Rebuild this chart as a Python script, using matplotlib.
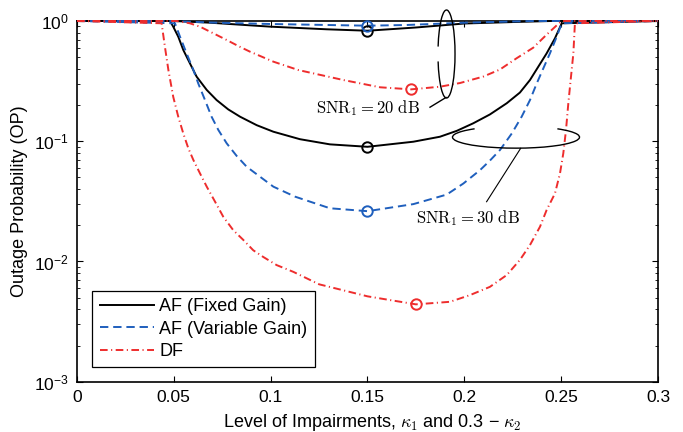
import matplotlib
matplotlib.use("Agg")
import matplotlib.pyplot as plt
from matplotlib.patches import Arc

plt.rcParams['font.family'] = ['Liberation Sans', 'DejaVu Sans']
plt.rcParams['mathtext.fontset'] = 'custom'
plt.rcParams['mathtext.rm'] = 'Liberation Sans'
plt.rcParams['mathtext.it'] = 'Liberation Sans:italic'
plt.rcParams['lines.scale_dashes'] = False

# values (x = level of impairments, y = outage probability)
x_af_fixed_20 = [0, 0.05, 0.0687, 0.085, 0.1, 0.129, 0.15, 0.175, 0.2, 0.225, 0.245, 0.3]
op_af_fixed_20 = [1, 1, 0.968, 0.93, 0.897, 0.853, 0.83, 0.883, 0.953, 0.98, 1, 1]

x_af_var_20 = [0, 0.048, 0.072, 0.1, 0.15, 0.17, 0.2, 0.235, 0.3]
op_af_var_20 = [1, 1, 0.968, 0.944, 0.914, 0.926, 0.968, 1, 1]

x_df_20 = [0, 0.0515, 0.0583, 0.0635, 0.0704, 0.0773, 0.0833, 0.0893, 0.0954, 0.1014,
           0.1143, 0.1375, 0.1565, 0.1725, 0.1874, 0.1978, 0.2098, 0.2184, 0.227, 0.2356,
           0.2425, 0.2477, 0.2503, 0.3]
op_df_20 = [1, 1, 0.957, 0.897, 0.790, 0.695, 0.619, 0.556, 0.505, 0.459,
            0.391, 0.323, 0.281, 0.27, 0.284, 0.305, 0.345, 0.395, 0.49, 0.60,
            0.77, 0.92, 1, 1]

x_af_fixed_30 = [0, 0.048, 0.0497, 0.0523, 0.0549, 0.0583, 0.0618, 0.0670, 0.0721, 0.0781,
                 0.0842, 0.0928, 0.1014, 0.1151, 0.1306, 0.15, 0.1737, 0.1874, 0.1961, 0.2046,
                 0.2132, 0.2219, 0.2287, 0.2339, 0.2382, 0.2425, 0.2468, 0.2503, 0.3]
op_af_fixed_30 = [1, 1, 0.897, 0.740, 0.574, 0.445, 0.344, 0.267, 0.220, 0.184,
                  0.160, 0.136, 0.120, 0.104, 0.0942, 0.0899, 0.0991, 0.109, 0.122, 0.141,
                  0.167, 0.207, 0.254, 0.323, 0.417, 0.538, 0.718, 0.957, 1]

x_af_var_30 = [0, 0.0506, 0.0532, 0.0566, 0.0601, 0.0626, 0.0661, 0.0695, 0.0730, 0.0773,
               0.0825, 0.0876, 0.0945, 0.1014, 0.1126, 0.1306, 0.15, 0.1737, 0.1909, 0.1995,
               0.2081, 0.2132, 0.2184, 0.2245, 0.2296, 0.2339, 0.2374, 0.2408, 0.2442, 0.2477,
               0.2503, 0.3]
op_af_var_30 = [1, 0.957, 0.740, 0.538, 0.391, 0.303, 0.220, 0.160, 0.124, 0.0961,
                0.0753, 0.0614, 0.0507, 0.0419, 0.0346, 0.0277, 0.0262, 0.0300, 0.0360, 0.0445,
                0.0575, 0.0690, 0.0845, 0.116, 0.160, 0.220, 0.303, 0.404, 0.538, 0.740,
                0.957, 1]

x_df_30 = [0, 0.0437, 0.0454, 0.0472, 0.0497, 0.0523, 0.0549, 0.0575, 0.0601, 0.0635,
           0.0670, 0.0713, 0.0755, 0.0807, 0.0859, 0.0910, 0.0962, 0.1031, 0.1117, 0.125,
           0.15, 0.175, 0.1926, 0.2029, 0.2132, 0.2219, 0.2287, 0.2339, 0.2391, 0.2425,
           0.2468, 0.2494, 0.2511, 0.2525, 0.2537, 0.2549, 0.2563, 0.2571, 0.3]
op_df_30 = [1, 0.957, 0.611, 0.391, 0.234, 0.160, 0.116, 0.0873, 0.0698, 0.0541,
            0.0419, 0.0314, 0.0236, 0.0182, 0.0151, 0.0124, 0.0109, 0.00933, 0.0082, 0.00646,
            0.00513, 0.0044, 0.00462, 0.00525, 0.00615, 0.00771, 0.0103, 0.0137, 0.0195, 0.0268,
            0.0368, 0.0541, 0.0793, 0.124, 0.207, 0.323, 0.538, 0.957, 1]

# optimum points marked with circles
opt_x_20 = [0.15, 0.15, 0.1725]
opt_op_20 = [0.83, 0.914, 0.27]
opt_x_30 = [0.15, 0.15, 0.175]
opt_op_30 = [0.09, 0.0262, 0.0044]

labels = ['AF (Fixed Gain)', 'AF (Variable Gain)', 'DF']
colors = ['black', '#1f5fbd', '#ee2d2d']
dashes = [None, (6, 3.5), (5.5, 2.5, 0.8, 2.5)]

fig = plt.figure(figsize=(6.83, 4.32), dpi=100)
ax = fig.add_axes([0.1127, 0.1164, 0.8507, 0.835])

curves_20 = [(x_af_fixed_20, op_af_fixed_20), (x_af_var_20, op_af_var_20), (x_df_20, op_df_20)]
curves_30 = [(x_af_fixed_30, op_af_fixed_30), (x_af_var_30, op_af_var_30), (x_df_30, op_df_30)]

handles = []
for i in range(3):
    for j, (xs, ys) in enumerate([curves_20[i], curves_30[i]]):
        line, = ax.plot(xs, ys, color=colors[i], lw=1.4, clip_on=False, zorder=3,
                        label=labels[i] if j == 1 else None)
        if dashes[i] is not None:
            line.set_dashes(dashes[i])
        if j == 1:
            handles.append(line)
    ax.plot([opt_x_20[i], opt_x_30[i]], [opt_op_20[i], opt_op_30[i]], ls='none', marker='o',
            ms=7.5, mfc='none', mec=colors[i], mew=1.4, zorder=4, clip_on=False)

ax.set_yscale('log')
ax.set_xlim(0, 0.3)
ax.set_ylim(1e-3, 1)
ax.set_xticks([0, 0.05, 0.1, 0.15, 0.2, 0.25, 0.3])
ax.set_xticklabels(['0', '0.05', '0.1', '0.15', '0.2', '0.25', '0.3'])
ax.tick_params(which='both', direction='in', top=True, right=True, labelsize=12.5)
ax.tick_params(which='major', length=4.5, width=0.8, pad=6)
ax.tick_params(which='minor', length=2.5, width=0.6)
for s in ax.spines.values():
    s.set_linewidth(1.2)

ax.set_xlabel(r'Level of Impairments, $\kappa_1$ and 0.3 − $\kappa_2$', fontsize=13,
              math_fontfamily='cm')
ax.set_ylabel('Outage Probability (OP)', fontsize=13)
ax.yaxis.set_label_coords(-0.084, 0.5)
ax.xaxis.set_label_coords(0.508, -0.085)

leg = ax.legend(handles=handles, loc='lower left', bbox_to_anchor=(0.0267, 0.04),
                borderaxespad=0, fontsize=13, handlelength=3.0, handletextpad=0.3,
                labelspacing=0.3, fancybox=False, framealpha=1, edgecolor='black')
leg.get_frame().set_linewidth(0.9)

# annotations
ax.text(0.501, 0.759, r'$\mathrm{SNR}_1 = 20\ \mathrm{dB}$', transform=ax.transAxes,
        ha='center', va='center', fontsize=12, math_fontfamily='cm')
ax.text(0.6738, 0.454, r'$\mathrm{SNR}_1 = 30\ \mathrm{dB}$', transform=ax.transAxes,
        ha='center', va='center', fontsize=12, math_fontfamily='cm')
ax.add_patch(Arc((0.636, 0.9085), 0.0293, 0.244, theta1=235, theta2=125,
                 transform=ax.transAxes, color='black', lw=1.0, clip_on=False, zorder=5))
ax.add_patch(Arc((0.7556, 0.678), 0.2186, 0.061, theta1=162, theta2=18,
                 transform=ax.transAxes, color='black', lw=1.0, clip_on=False, zorder=5))
ax.plot([0.6076, 0.6351], [0.761, 0.788], transform=ax.transAxes, color='black', lw=1.0)
ax.plot([0.7636, 0.705], [0.647, 0.499], transform=ax.transAxes, color='black', lw=0.8)
for xm in [0.1, 0.2]:
    ax.plot([xm, xm], [1, 0.91], color='black', lw=0.6, zorder=2)

fig.savefig('out.png', dpi=100)
